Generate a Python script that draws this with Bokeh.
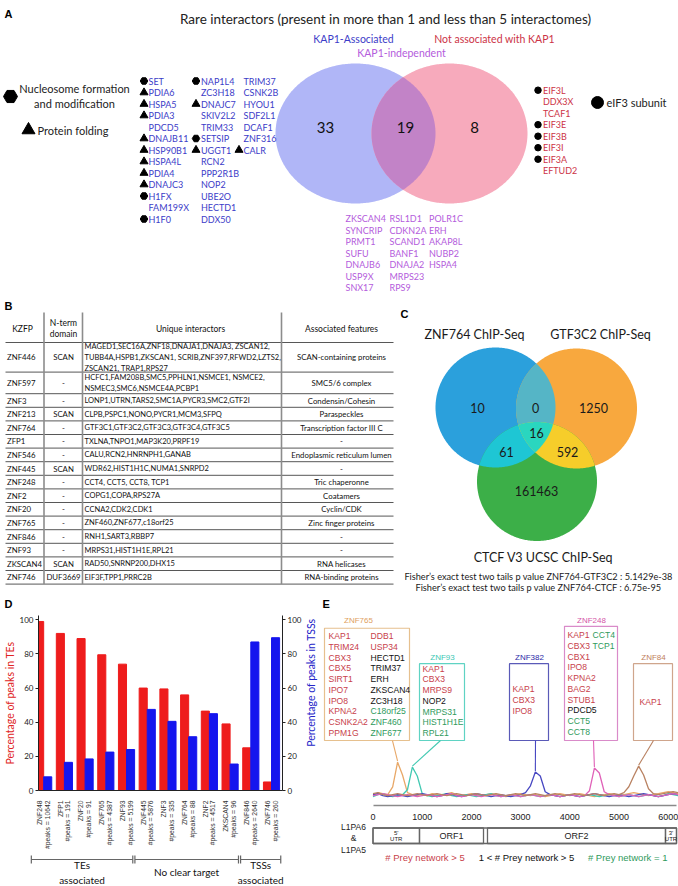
import math
import numpy as np
from bokeh.plotting import figure
from bokeh.models import Range1d, FixedTicker, LinearAxis
from bokeh.layouts import column, row
from bokeh.core.properties import value
from bokeh.embed import file_html
from bokeh.resources import INLINE

# ======================= DATA =======================
# ---- Panel A ----
a_title = "Rare interactors (present in more than 1 and less than 5 interactomes)"
a_set_labels = ["KAP1-Associated", "KAP1-independent", "Not associated with KAP1"]
a_counts = [33, 19, 8]
a_kap1_col1 = ["SET", "PDIA6", "HSPA5", "PDIA3", "PDCD5", "DNAJB11", "HSP90B1", "HSPA4L",
               "PDIA4", "DNAJC3", "H1FX", "FAM199X", "H1F0"]
a_kap1_col1_mark = ["hex", "tri", "tri", "tri", "", "tri", "tri", "tri", "tri", "tri", "hex", "", "hex"]
a_kap1_col2 = ["NAP1L4", "ZC3H18", "DNAJC7", "SKIV2L2", "TRIM33", "SETSIP", "UGGT1", "RCN2",
               "PPP2R1B", "NOP2", "UBE2O", "HECTD1", "DDX50"]
a_kap1_col2_mark = ["hex", "", "tri", "", "", "hex", "tri", "", "", "", "", "", ""]
a_kap1_col3 = ["TRIM37", "CSNK2B", "HYOU1", "SDF2L1", "DCAF1", "ZNF316", "CALR"]
a_kap1_col3_mark = ["", "", "", "", "", "", "tri"]
a_indep_col1 = ["ZKSCAN4", "SYNCRIP", "PRMT1", "SUFU", "DNAJB6", "USP9X", "SNX17"]
a_indep_col2 = ["RSL1D1", "CDKN2A", "SCAND1", "BANF1", "DNAJA2", "MRPS23", "RPS9"]
a_indep_col3 = ["POLR1C", "ERH", "AKAP8L", "NUBP2", "HSPA4"]
a_notkap1 = ["EIF3L", "DDX3X", "TCAF1", "EIF3E", "EIF3B", "EIF3I", "EIF3A", "EFTUD2"]
a_notkap1_mark = ["dot", "", "", "dot", "dot", "dot", "dot", ""]
a_legend = ["Nucleosome formation\nand modification", "Protein folding", "eIF3 subunit"]

# ---- Panel B ----
b_header = ["KZFP", "N-term\ndomain", "Unique interactors", "Associated features"]
b_kzfp = ["ZNF446", "ZNF597", "ZNF3", "ZNF213", "ZNF764", "ZFP1", "ZNF546", "ZNF445",
          "ZNF248", "ZNF2", "ZNF20", "ZNF765", "ZNF846", "ZNF93", "ZKSCAN4", "ZNF746"]
b_nterm = ["SCAN", "-", "-", "SCAN", "-", "-", "-", "SCAN", "-", "-", "-", "-", "-", "-", "SCAN", "DUF3669"]
b_interactors = [
    "MAGED1,SEC16A,ZNF18,DNAJA1,DNAJA3, ZSCAN12,\nTUBB4A,HSPB1,ZKSCAN1, SCRIB,ZNF397,RFWD2,LZTS2,\nZSCAN21, TRAP1,RPS27",
    "HCFC1,FAM208B,SMC5,PPHLN1,NSMCE1, NSMCE2,\nNSMEC3,SMC6,NSMCE4A,PCBP1",
    "LONP1,UTRN,TARS2,SMC1A,PYCR3,SMC2,GTF2I",
    "CLPB,PSPC1,NONO,PYCR1,MCM3,SFPQ",
    "GTF3C1,GTF3C2,GTF3C3,GTF3C4,GTF3C5",
    "TXLNA,TNPO1,MAP3K20,PRPF19",
    "CALU,RCN2,HNRNPH1,GANAB",
    "WDR62,HIST1H1C,NUMA1,SNRPD2",
    "CCT4, CCT5, CCT8, TCP1",
    "COPG1,COPA,RPS27A",
    "CCNA2,CDK2,CDK1",
    "ZNF460,ZNF677,c18orf25",
    "RNH1,SART3,RBBP7",
    "MRPS31,HIST1H1E,RPL21",
    "RAD50,SNRNP200,DHX15",
    "EIF3F,TPP1,PRRC2B",
]
b_features = ["SCAN-containing proteins", "SMC5/6 complex", "Condensin/Cohesin", "Paraspeckles",
              "Transcription factor III C", "-", "Endoplasmic reticulum lumen", "-", "Tric chaperonne",
              "Coatamers", "Cyclin/CDK", "Zinc finger proteins", "-", "-", "RNA helicases",
              "RNA-binding proteins"]

# ---- Panel C ----
c_set_labels = ["ZNF764 ChIP-Seq", "GTF3C2 ChIP-Seq", "CTCF V3 UCSC ChIP-Seq"]
c_regions = ["ZNF764 only", "ZNF764+GTF3C2", "GTF3C2 only", "all three",
             "ZNF764+CTCF", "GTF3C2+CTCF", "CTCF only"]
c_counts = [10, 0, 1250, 16, 61, 592, 161463]
c_fisher = ["Fisher\u2019s exact test two tails p value ZNF764-GTF3C2 : 5.1429e-38",
            "Fisher\u2019s exact test two tails p value ZNF764-CTCF : 6.75e-95"]

# ---- Panel D ----
d_names = ["ZNF248", "ZFP1", "ZNF20", "ZNF765", "ZNF93", "ZNF445", "ZNF3", "ZNF764",
           "ZNF2", "ZKSCAN4", "ZNF846", "ZNF746"]
d_peaks = [10642, 191, 91, 4387, 5199, 5876, 335, 88, 4517, 96, 2640, 260]
d_te_pct = [99, 92, 89, 79.5, 74, 60, 59.5, 56, 46.5, 39, 25, 5]
d_tss_pct = [8, 16.5, 18.5, 22.5, 24, 47.5, 40.5, 31.5, 45, 15.5, 87, 89.5]
d_axis_titles = ["Percentage of peaks in TEs", "Percentage of peaks in TSSs"]
d_groups = ["TEs\nassociated", "No clear target", "TSSs\nassociated"]
d_group_first = [0, 5, 10]
d_group_last = [4, 9, 11]

# ---- Panel E ----
e_pos = list(range(0, 6201, 100))
e_znf765 = [10, 13, 12, 11, 19, 44, 31, 13, 11, 10, 11, 10, 12, 11, 10, 12, 13, 11, 10, 11,
            12, 11, 10, 11, 12, 11, 10, 9, 10, 11, 12, 11, 10, 11, 10, 9, 10, 11, 12, 11,
            10, 11, 12, 11, 10, 9, 10, 11, 12, 11, 10, 11, 12, 13, 12, 11, 10, 11, 12, 13,
            14, 13, 12]
e_znf93 = [9, 11, 12, 10, 9, 10, 11, 16, 39, 30, 12, 10, 9, 10, 11, 12, 10, 9, 10, 11,
           10, 9, 10, 11, 12, 10, 9, 10, 11, 10, 9, 10, 11, 10, 9, 10, 11, 10, 9, 10,
           11, 10, 9, 10, 11, 10, 9, 10, 11, 10, 9, 10, 11, 10, 9, 10, 11, 10, 9, 10,
           12, 11, 10]
e_znf382 = [11, 12, 10, 9, 10, 11, 10, 9, 10, 11, 12, 11, 10, 9, 10, 12, 11, 10, 9, 10,
            11, 12, 11, 10, 9, 10, 11, 10, 9, 10, 11, 13, 20, 34, 30, 14, 11, 10, 9, 10,
            11, 10, 9, 10, 11, 12, 11, 10, 9, 10, 11, 10, 9, 10, 11, 12, 11, 10, 9, 10,
            11, 12, 11]
e_znf248 = [10, 11, 12, 11, 10, 9, 10, 11, 10, 9, 10, 11, 10, 9, 10, 11, 12, 10, 9, 10,
            11, 10, 9, 10, 11, 10, 9, 10, 11, 10, 9, 10, 11, 10, 9, 10, 11, 10, 9, 10,
            11, 10, 9, 10, 15, 38, 33, 14, 11, 10, 9, 10, 11, 10, 9, 10, 11, 10, 9, 10,
            11, 12, 11]
e_znf84 = [12, 13, 11, 10, 11, 12, 11, 10, 11, 12, 11, 10, 11, 12, 11, 10, 11, 12, 11, 10,
           11, 12, 11, 10, 11, 12, 11, 10, 11, 12, 11, 10, 11, 12, 11, 10, 11, 12, 11, 10,
           11, 12, 11, 10, 11, 12, 11, 10, 11, 12, 11, 13, 19, 30, 40, 31, 17, 12, 11, 12,
           13, 14, 13]
e_series_names = ["ZNF765", "ZNF93", "ZNF382", "ZNF248", "ZNF84"]
e_series = [e_znf765, e_znf93, e_znf382, e_znf248, e_znf84]
# prey lists per KZFP: h = prey network > 5, m = 1 < network > 5, o = network = 1
e_preys = {
    "ZNF765": [(["KAP1", "TRIM24", "CBX3", "CBX5", "SIRT1", "IPO7", "IPO8", "KPNA2", "CSNK2A2", "PPM1G"],
                list("hhhhhhhhhh")),
               (["DDB1", "USP34", "HECTD1", "TRIM37", "ERH", "ZKSCAN4", "ZC3H18", "C18orf25", "ZNF460", "ZNF677"],
                list("hhmmmmmooo"))],
    "ZNF93": [(["KAP1", "CBX3", "MRPS9", "NOP2", "MRPS31", "HIST1H1E", "RPL21"], list("hhhmooo"))],
    "ZNF382": [(["KAP1", "CBX3", "IPO8"], list("hhh"))],
    "ZNF248": [(["KAP1", "CBX3", "CBX1", "IPO8", "KPNA2", "BAG2", "STUB1", "PDCD5", "CCT5", "CCT8"],
                list("hhhhhhhmoo")),
               (["CCT4", "TCP1"], list("oo"))],
    "ZNF84": [(["KAP1"], list("h"))],
}
e_l1_parts = ["5'\nUTR", "ORF1", "ORF2", "3'\nUTR"]
e_l1_start = [0, 945, 2327, 5945]
e_l1_end = [945, 2246, 5945, 6169]
e_legend = ["# Prey network > 5", "1 < # Prey network > 5", "# Prey network  = 1"]

# ======================= STYLE =======================
LATO = value("Lato")
ARIAL = value("Liberation Sans")
BLUE_T, RED_T, PURP_T = "#3c3cc8", "#cc3346", "#b45cdc"
PREY_COL = {"h": "#c8414b", "m": "#111111", "o": "#2f9a5c"}


def txt(p, x, y, text, size, color="#111111", font=LATO, align="left", baseline="middle",
        style="normal", lh=1.2, angle=0.0):
    p.text(x=list(x), y=list(y), text=list(text), text_font=font, text_font_size=size,
           text_color=color, text_align=align, text_baseline=baseline,
           text_font_style=style, text_line_height=lh, angle=angle)


def ell_pts(cx, cy, a, b, n=360):
    t = np.linspace(0, 2 * np.pi, n, endpoint=False)
    return cx + a * np.cos(t), cy + b * np.sin(t)


def inside(x, y, s):
    cx, cy, a, b = s
    return ((x - cx) / a) ** 2 + ((y - cy) / b) ** 2 <= 1.0 + 1e-9


def intersection(shapes):
    xs, ys = [], []
    for i, s in enumerate(shapes):
        x, y = ell_pts(*s)
        m = np.ones(len(x), bool)
        for j, o in enumerate(shapes):
            if j != i:
                m &= inside(x, y, o)
        xs.append(x[m]); ys.append(y[m])
    x = np.concatenate(xs); y = np.concatenate(ys)
    cx, cy = x.mean(), y.mean()
    order = np.argsort(np.arctan2(y - cy, x - cx))
    return x[order], y[order]


MARKS = {"hex": ("hex", 7.5), "tri": ("triangle", 8), "dot": ("circle", 6.5)}


def draw_list(p, names, marks, xt, xm, y0, dy, color, size="9px"):
    ys = [y0 + dy * i for i in range(len(names))]
    txt(p, [xt] * len(names), ys, names, size, color)
    if marks:
        for key, (sym, sz) in MARKS.items():
            sel = [i for i, k in enumerate(marks) if k == key]
            if sel:
                p.scatter([xm] * len(sel), [ys[i] for i in sel], marker=sym, size=sz,
                          color="black")


def blank(width, height, xr, yr, left=0, right=0):
    p = figure(width=width, height=height, x_range=xr, y_range=yr, output_backend="svg",
               toolbar_location=None, x_axis_location=None, y_axis_location=None,
               min_border_left=left, min_border_right=right, min_border_top=0,
               min_border_bottom=0, outline_line_color=None)
    p.grid.visible = False
    return p


# ======================= TOP FIGURE (A, B, C) =======================
TOP_H = 612
top = blank(678, TOP_H, Range1d(0, 678), Range1d(TOP_H, 0))

# panel letters
txt(top, [4, 4, 400, 4, 322], [13, 305, 313, 603, 603], ["A", "B", "C", "D", "E"], "11px",
    "#000000", ARIAL, style="bold")

# ---- Panel A ----
txt(top, [385], [18], [a_title], "13.5px", "#222222", align="center")
txt(top, [353, 401, 494], [38, 52, 38], a_set_labels, "10.5px", [BLUE_T, PURP_T, RED_T], align="center")
blue_e = (355.0, 133.0, 80.0, 70.0)
pink_e = (449.0, 133.0, 78.0, 70.0)
for s, col in ((blue_e, "#b0b6f7"), (pink_e, "#f7aabc")):
    x, y = ell_pts(*s)
    top.patch(x, y, fill_color=col, line_color=None)
x, y = intersection([blue_e, pink_e])
top.patch(x, y, fill_color="#c283c7", line_color=None)
txt(top, [325, 405, 474], [127, 127, 127], [str(v) for v in a_counts], "15px", "#111111", align="center")

draw_list(top, a_kap1_col1, a_kap1_col1_mark, 148, 143.5, 80.5, 11.5, BLUE_T)
draw_list(top, a_kap1_col2, a_kap1_col2_mark, 200.5, 195.5, 80.5, 11.5, BLUE_T)
draw_list(top, a_kap1_col3, a_kap1_col3_mark, 243, 238.5, 80.5, 11.5, BLUE_T)
draw_list(top, a_notkap1, a_notkap1_mark, 542.5, 537.5, 89.7, 11.5, RED_T)
draw_list(top, a_indep_col1, None, 345, 0, 218.3, 11.45, PURP_T)
draw_list(top, a_indep_col2, None, 389, 0, 218.3, 11.45, PURP_T)
draw_list(top, a_indep_col3, None, 428.5, 0, 218.3, 11.45, PURP_T)

top.scatter([10], [96], marker="hex", size=14, color="black")
top.scatter([28], [129.5], marker="triangle", size=13, color="black")
top.scatter([597], [102], marker="circle", size=12, color="black")
txt(top, [74], [95.5], [a_legend[0]], "11px", "#222222", align="center", lh=1.2)
txt(top, [37, 606], [129.5, 102], a_legend[1:], "11px", "#222222")

# ---- Panel B: table ----
nlines = [s.count("\n") + 1 for s in b_interactors]
row_h = [13.6 + 8.0 * (n - 1) for n in nlines]
tops_y, ycur = [], 342.0
for h in row_h:
    tops_y.append(ycur)
    ycur += h
bottoms_y = [t + h for t, h in zip(tops_y, row_h)]
centers_y = [t + h / 2 for t, h in zip(tops_y, row_h)]
table_bottom = bottoms_y[-1]

txt(top, [22, 63, 190, 341], [328, 328, 328, 328], b_header, "8.5px", "#111111", align="center", lh=1.15)
txt(top, [6.5] * len(b_kzfp), centers_y, b_kzfp, "7.8px", "#111111")
txt(top, [63] * len(b_nterm), centers_y, b_nterm, "7.8px", "#111111", align="center")
txt(top, [84] * len(b_interactors), centers_y, b_interactors, "7.5px", "#111111", lh=1.2)
txt(top, [341] * len(b_features), centers_y, b_features, "7.8px", "#111111", align="center")
hy = [342.0] + bottoms_y
top.segment(x0=[5] * len(hy), y0=hy, x1=[393] * len(hy), y1=hy, line_color="#444444", line_width=0.9)
vx = [43.5, 82, 281]
top.segment(x0=vx, y0=[312] * 3, x1=vx, y1=[table_bottom] * 3, line_color="#8c8c8c", line_width=1.6)

# ---- Panel C: three-set Venn ----
c_blue = (495.0, 407.0, 60.0, 60.0)
c_orange = (576.0, 408.0, 60.5, 60.0)
c_green = (536.5, 481.0, 60.0, 59.5)
for s, col in ((c_blue, "#2ba0dc"), (c_orange, "#f8a83e"), (c_green, "#3caf48")):
    x, y = ell_pts(*s)
    top.patch(x, y, fill_color=col, line_color=None)
for shapes, col in (([c_blue, c_orange], "#55b5c6"), ([c_blue, c_green], "#1ec6d4"),
                    ([c_orange, c_green], "#f6cd2a"), ([c_blue, c_orange, c_green], "#2ad6bf")):
    x, y = intersection(shapes)
    top.patch(x, y, fill_color=col, line_color=None)
c_pos_x = [477, 535, 593, 536, 506, 567, 536]
c_pos_y = [407, 407, 407, 432, 451, 451, 490]
txt(top, c_pos_x, c_pos_y, [str(v) for v in c_counts], "12.5px", "#1a1a1a", align="center")
txt(top, [474, 600, 543], [334, 334, 557], c_set_labels, "12.5px", "#1a1a1a", align="center")
txt(top, [538, 538], [576, 587], c_fisher, "9.2px", "#1a1a1a", align="center")

# ======================= PANEL D =======================
D_W = 322          # whole panel width
D_LAB = 18         # strip for the right-hand axis title
D_PW = D_W - D_LAB  # bar figure width
D_L, D_R = 34, 21
D_X0, D_X1 = -0.25, 11.53
D_Y1 = 102.5
BOT_H = 886 - TOP_H
D_H = 240
pd = figure(width=D_PW, height=D_H, x_range=Range1d(D_X0, D_X1), y_range=Range1d(0, D_Y1),
            output_backend="svg", toolbar_location=None, min_border_left=D_L,
            min_border_right=D_R, min_border_top=3, min_border_bottom=59,
            outline_line_color=None)
pd.grid.visible = False
idx = list(range(len(d_names)))
pd.vbar(x=[i - 0.195 for i in idx], top=d_te_pct, width=0.39, color="#ee1c1c")
pd.vbar(x=[i + 0.195 for i in idx], top=d_tss_pct, width=0.39, color="#1515ee")

yticks = FixedTicker(ticks=[0, 20, 40, 60, 80, 100])


def style_y(ax):
    ax.ticker = yticks
    ax.axis_label_text_font = "Lato"
    ax.axis_label_text_font_size = "10.5px"
    ax.axis_label_text_font_style = "normal"
    ax.axis_label_standoff = 1
    ax.major_label_text_font = "Lato"
    ax.major_label_text_font_size = "8px"
    ax.major_label_text_color = "#222222"
    ax.major_label_standoff = 2
    ax.major_tick_out = 3
    ax.major_tick_in = 0
    ax.minor_tick_line_color = None
    ax.axis_line_color = "#222222"
    ax.major_tick_line_color = "#222222"


style_y(pd.yaxis[0])
pd.yaxis[0].axis_label = d_axis_titles[0]
pd.yaxis[0].axis_label_text_color = "#e02424"
rax = LinearAxis()
style_y(rax)
pd.add_layout(rax, "right")

xt_pos, xt_lab = [], {}
for i, (n, k) in enumerate(zip(d_names, d_peaks)):
    a, b = round(i - 0.2, 3), round(i + 0.17, 3)
    xt_pos += [a, b]
    xt_lab[a] = n
    xt_lab[b] = "#peaks = %d" % k
xax = pd.xaxis[0]
xax.ticker = FixedTicker(ticks=xt_pos)
xax.major_label_overrides = xt_lab
xax.major_label_orientation = math.pi / 2
xax.major_label_text_font = "Liberation Sans"
xax.major_label_text_font_size = "6.8px"
xax.major_label_text_color = "#333333"
xax.major_label_standoff = 4
xax.major_tick_line_color = None
xax.minor_tick_line_color = None
xax.axis_line_color = "#222222"

# right-hand axis title (reads bottom-to-top like the left one)
plab = blank(D_LAB, D_H, Range1d(0, D_LAB), Range1d(TOP_H + D_H, TOP_H))
txt(plab, [6], [704], [d_axis_titles[1]], "10.5px", "#2424c8", align="center",
    angle=math.pi / 2)

# group brackets (x mapped exactly like the bar frame)
frame_w = D_PW - D_L - D_R
px_per_unit = frame_w / (D_X1 - D_X0)
PB_L, PB_R = 12, 10
ext_l = (D_L - PB_L) / px_per_unit
ext_r = (D_R + D_LAB - PB_R) / px_per_unit
pb = blank(D_W, BOT_H - D_H, Range1d(D_X0 - ext_l, D_X1 + ext_r), Range1d(886, TOP_H + D_H),
           left=PB_L, right=PB_R)
g_left = [f - 0.5 + (0.1 if f == 0 else 0.0) for f in d_group_first]
g_right = [l + 0.4 for l in d_group_last]
pb.segment(x0=g_left, y0=[859] * 3, x1=g_right, y1=[859] * 3, line_color="#666666", line_width=1.2)
caps = g_left + g_right
pb.segment(x0=caps, y0=[855] * 6, x1=caps, y1=[863] * 6, line_color="#666666", line_width=1.2)
txt(pb, [(a + b) / 2 for a, b in zip(g_left, g_right)], [871.5] * 3, d_groups, "10px",
    "#111111", align="center", lh=1.25)

# ======================= PANEL E =======================
E_W = 678 - D_W
E1_H = 210


def bp(x_ref):
    return (x_ref - 372.5) / 49.2 * 1000.0


def ey(y_page):
    return 808.0 - y_page


pe = figure(width=E_W, height=E1_H, x_range=Range1d(bp(322), bp(678)), y_range=Range1d(0, 196),
            output_backend="svg", toolbar_location=None, min_border_left=0, min_border_right=0,
            min_border_top=0, min_border_bottom=E1_H - 196, y_axis_location=None,
            outline_line_color=None)
pe.grid.visible = False
ex = pe.xaxis[0]
ex.ticker = FixedTicker(ticks=[0, 1000, 2000, 3000, 4000, 5000, 6000])
ex.bounds = (0, 6169)
ex.axis_line_color = "#8a8a8a"
ex.axis_line_width = 1.3
ex.major_tick_line_color = None
ex.minor_tick_line_color = None
ex.major_label_text_font = "Liberation Sans"
ex.major_label_text_font_size = "9px"
ex.major_label_text_color = "#222222"
ex.major_label_standoff = 2

line_cols = {"ZNF765": "#e8a868", "ZNF93": "#42c9b2", "ZNF382": "#4848c2",
             "ZNF248": "#e062b8", "ZNF84": "#b98262"}
title_cols = {"ZNF765": "#e0a060", "ZNF93": "#3cc8b4", "ZNF382": "#2a2aa8",
              "ZNF248": "#d455a8", "ZNF84": "#c0805c"}
box_cols = {"ZNF765": "#e6c08e", "ZNF93": "#5fd3c3", "ZNF382": "#5a5ab8",
            "ZNF248": "#d98bc9", "ZNF84": "#cfa58c"}
# box layout in reference pixels: left, right, top, title x, title y, leader x, column xs, first row y
box_layout = {
    "ZNF765": (324, 409, 628, 358, 620, 392, [328, 370], 636),
    "ZNF93": (419, 464, 664, 442, 658, 440, [422], 669),
    "ZNF382": (509, 548, 664, 529, 658, 535, [512], 690),
    "ZNF248": (564, 617, 626, 591, 620, 593, [567, 592], 635),
    "ZNF84": (633, 672, 664, 653, 658, 653, [639], 703),
}
BOX_BOTTOM = 742
ROW_DY = 10.9

for name, vals in zip(e_series_names, e_series):
    pe.line(e_pos, vals, line_color=line_cols[name], line_width=1.3)

for name, vals in zip(e_series_names, e_series):
    l, r, t, tx, ty, lx, cols_x, y0 = box_layout[name]
    pe.quad(left=[bp(l)], right=[bp(r)], top=[ey(t)], bottom=[ey(BOX_BOTTOM)],
            fill_color=None, line_color=box_cols[name], line_width=1.2)
    txt(pe, [bp(tx)], [ey(ty)], [name], "8px", title_cols[name], ARIAL, align="center")
    for cx, (names, cats) in zip(cols_x, e_preys[name]):
        ys = [ey(y0 + ROW_DY * i) for i in range(len(names))]
        txt(pe, [bp(cx)] * len(names), ys, names, "8.6px", [PREY_COL[c] for c in cats], ARIAL)
    k = int(np.argmax(vals))
    pe.segment(x0=[bp(lx)], y0=[ey(BOX_BOTTOM)], x1=[e_pos[k]], y1=[vals[k] + 1],
               line_color=line_cols[name], line_width=1.1)

E2_TOP = TOP_H + E1_H
pe2 = blank(E_W, BOT_H - E1_H, pe.x_range, Range1d(886, E2_TOP))
pe2.quad(left=[e_l1_start[0]], right=[e_l1_end[-1]], top=[827.5], bottom=[843],
         fill_color="white", line_color="#666666", line_width=1.3)
pe2.quad(left=e_l1_start, right=e_l1_end, top=[827.5] * 4, bottom=[843] * 4,
         fill_color=None, line_color="#666666", line_width=1.3)
mid = [(a + b) / 2 for a, b in zip(e_l1_start, e_l1_end)]
sizes = ["6px" if "\n" in s else "9px" for s in e_l1_parts]
for m, s, fs in zip(mid, e_l1_parts, sizes):
    txt(pe2, [m], [835.5], [s], fs, "#222222", ARIAL, align="center", lh=1.15)
txt(pe2, [bp(353)], [837.5], ["L1PA6\n&\nL1PA5"], "8.5px", "#222222", ARIAL, align="center", lh=1.15)
txt(pe2, [bp(424.5), bp(526), bp(628.5)], [857] * 3, e_legend, "9.5px",
    [PREY_COL["h"], PREY_COL["m"], PREY_COL["o"]], ARIAL, align="center")

layout = column(top, row(column(row(pd, plab), pb), column(pe, pe2)))
open("out.html", "w").write(file_html(layout, INLINE))
